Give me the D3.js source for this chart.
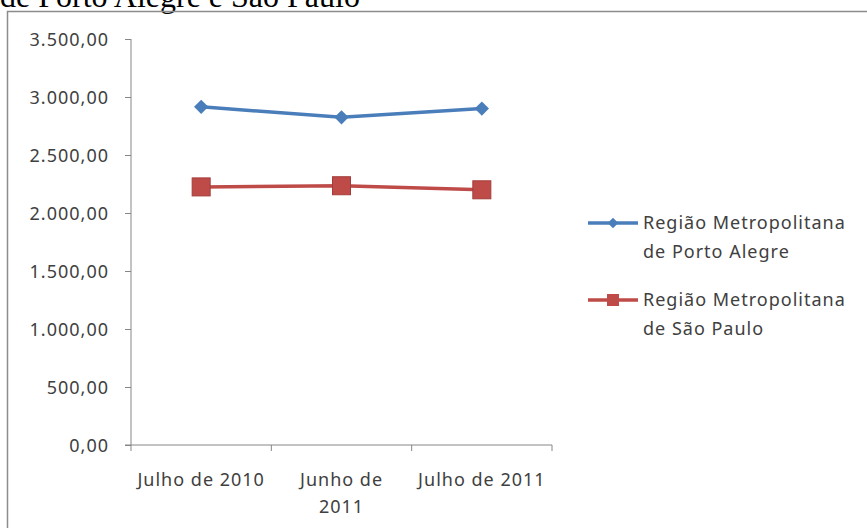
<!DOCTYPE html>
<html>
<head>
<meta charset="utf-8">
<script src="https://cdn.jsdelivr.net/npm/d3@7"></script>
<style>
  body { margin: 0; background: #fff; }
  svg text { font-family: "Noto Sans", "Open Sans", sans-serif; fill: #404040; letter-spacing: 1px; }
</style>
</head>
<body>
<div id="chart"></div>
<script>
var svgWidth = 867;
var svgHeight = 528;

// data
var categories = ["Julho de 2010", "Junho de 2011", "Julho de 2011"];
var categoryLines = [["Julho de 2010"], ["Junho de", "2011"], ["Julho de 2011"]];
var seriesNames = ["Região Metropolitana de Porto Alegre", "Região Metropolitana de São Paulo"];
var portoAlegre = [2915, 2825, 2900];
var saoPaulo = [2225, 2235, 2200];
var yTicks = [0, 500, 1000, 1500, 2000, 2500, 3000, 3500];

var colors = ["#4a7ebb", "#be4b48"];

var svg = d3.select("#chart")
  .append("svg")
  .attr("width", svgWidth)
  .attr("height", svgHeight);

// title fragment cut off at the top
svg.append("text")
  .attr("x", 0)
  .attr("y", 7)
  .style("font-family", "'Liberation Serif', 'Times New Roman', serif")
  .style("font-size", "32px")
  .style("letter-spacing", "0px")
  .style("fill", "#000")
  .text("de Porto Alegre e São Paulo");

// chart area border
svg.append("rect")
  .attr("x", 7.5)
  .attr("y", 11.5)
  .attr("width", 900)
  .attr("height", 600)
  .attr("fill", "none")
  .attr("stroke", "#8c8c8c")
  .attr("stroke-width", 1.5);

var plot = { left: 131, right: 552, top: 39, bottom: 445 };

var x = d3.scaleBand()
  .domain(categories)
  .range([plot.left, plot.right])
  .padding(0);

var y = d3.scaleLinear()
  .domain([0, 3500])
  .range([plot.bottom, plot.top]);

var locale = d3.formatLocale({ decimal: ",", thousands: ".", grouping: [3], currency: ["", ""] });
var fmt = locale.format(",.2f");

// y axis
var yAxis = svg.append("g")
  .attr("transform", `translate(${plot.left}, 0)`)
  .call(d3.axisLeft(y).tickValues(yTicks).tickSize(6).tickPadding(16).tickFormat(fmt));
yAxis.select(".domain").attr("stroke", "#868686").attr("d", `M0,${plot.top}V${plot.bottom}`);
yAxis.selectAll(".tick line").attr("stroke", "#868686");
yAxis.selectAll(".tick text")
  .style("font-size", "18px")
  .attr("dy", "0.35em");

// x axis
var xAxisG = svg.append("g")
  .attr("transform", `translate(0, ${plot.bottom})`);
xAxisG.append("line")
  .attr("x1", plot.left - 6)
  .attr("x2", plot.right)
  .attr("stroke", "#868686");
var edges = categories.map(c => x(c)).concat([x(categories[categories.length - 1]) + x.bandwidth()]);
xAxisG.selectAll(".xtick")
  .data(edges)
  .enter()
  .append("line")
  .attr("x1", d => d)
  .attr("x2", d => d)
  .attr("y1", 0)
  .attr("y2", 6)
  .attr("stroke", "#868686");

var labels = xAxisG.selectAll(".xlabel")
  .data(categories)
  .enter()
  .append("text")
  .attr("text-anchor", "middle")
  .style("font-size", "18px")
  .attr("transform", d => `translate(${x(d) + x.bandwidth() / 2}, 41)`);
labels.each(function(d, i) {
  var t = d3.select(this);
  categoryLines[i].forEach(function(line, j) {
    t.append("tspan").attr("x", 0).attr("y", j * 27).text(line);
  });
});

// lines
var line = d3.line()
  .x((d, i) => x(categories[i]) + x.bandwidth() / 2)
  .y(d => y(d));

var series = [portoAlegre, saoPaulo];
series.forEach(function(values, s) {
  svg.append("path")
    .datum(values)
    .attr("fill", "none")
    .attr("stroke", colors[s])
    .attr("stroke-width", 3.5)
    .attr("d", line);
});

// markers
svg.selectAll(".diamond")
  .data(portoAlegre)
  .enter()
  .append("path")
  .attr("d", d3.symbol().type(d3.symbolDiamond2).size(130))
  .attr("transform", (d, i) => `translate(${x(categories[i]) + x.bandwidth() / 2}, ${y(d)})`)
  .attr("fill", colors[0]);

svg.selectAll(".square")
  .data(saoPaulo)
  .enter()
  .append("rect")
  .attr("x", (d, i) => x(categories[i]) + x.bandwidth() / 2 - 9)
  .attr("y", d => y(d) - 9)
  .attr("width", 18)
  .attr("height", 18)
  .attr("fill", colors[1])
  .attr("stroke", "#a33c39")
  .attr("stroke-width", 1);

// legend
var legend = svg.append("g");
var legendY = [223, 300];
var legendLines = [["Região Metropolitana", "de Porto Alegre"], ["Região Metropolitana", "de São Paulo"]];
seriesNames.forEach(function(name, s) {
  var g = legend.append("g").attr("transform", `translate(588, ${legendY[s]})`);
  g.append("line")
    .attr("x1", 0).attr("x2", 50)
    .attr("stroke", colors[s])
    .attr("stroke-width", 3.5);
  if (s === 0) {
    g.append("path")
      .attr("d", d3.symbol().type(d3.symbolDiamond2).size(70))
      .attr("transform", "translate(25,0)")
      .attr("fill", colors[0]);
  } else {
    g.append("rect")
      .attr("x", 19).attr("y", -6)
      .attr("width", 12).attr("height", 12)
      .attr("fill", colors[1]);
  }
  var t = g.append("text").style("font-size", "18px");
  legendLines[s].forEach(function(l, j) {
    t.append("tspan").attr("x", 55).attr("y", j * 29).attr("dy", "0.35em").text(l);
  });
});
</script>
</body>
</html>
